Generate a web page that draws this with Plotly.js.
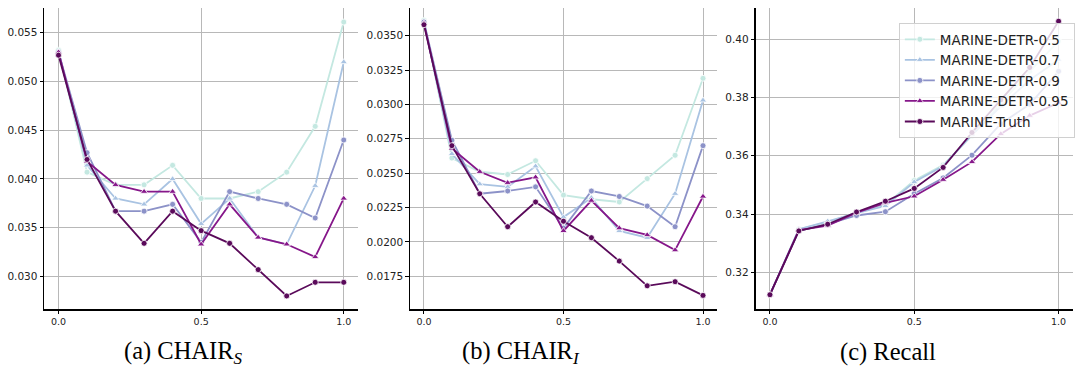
<!DOCTYPE html>
<html>
<head>
<meta charset="utf-8">
<script src="https://cdn.plot.ly/plotly-3.0.1.min.js"></script>
<style>
  html, body { margin: 0; padding: 0; background: #fff; }
  #chart { width: 1077px; height: 368px; }
</style>
</head>
<body>
<div id="chart"></div>
<script>
// Guidance strength (x axis shared by all three panels)
const xs = [0.0, 0.1, 0.2, 0.3, 0.4, 0.5, 0.6, 0.7, 0.8, 0.9, 1.0];

const seriesNames = ["MARINE-DETR-0.5", "MARINE-DETR-0.7", "MARINE-DETR-0.9", "MARINE-DETR-0.95", "MARINE-Truth"];

// (a) CHAIR_S
const chairS_05    = [0.0532, 0.0407, 0.0394, 0.0394, 0.0414, 0.0380, 0.0380, 0.0387, 0.0407, 0.0454, 0.0561];
const chairS_07    = [0.0531, 0.0414, 0.0380, 0.0374, 0.0400, 0.0354, 0.0380, 0.0340, 0.0333, 0.0393, 0.0520];
const chairS_09    = [0.0530, 0.0427, 0.0367, 0.0367, 0.0374, 0.0335, 0.0387, 0.0380, 0.0374, 0.0360, 0.0440];
const chairS_095   = [0.0530, 0.0418, 0.0394, 0.0387, 0.0387, 0.0333, 0.0374, 0.0340, 0.0333, 0.0320, 0.0380];
const chairS_truth = [0.0527, 0.0420, 0.0367, 0.0334, 0.0367, 0.0347, 0.0334, 0.0307, 0.0280, 0.0294, 0.0294];

// (b) CHAIR_I
const chairI_05    = [0.0361, 0.0261, 0.0251, 0.0249, 0.0259, 0.0234, 0.0231, 0.0229, 0.0246, 0.0263, 0.0319];
const chairI_07    = [0.0360, 0.0264, 0.0242, 0.0240, 0.0255, 0.0218, 0.0232, 0.0208, 0.0203, 0.0235, 0.0303];
const chairI_09    = [0.0360, 0.0274, 0.0235, 0.0237, 0.0240, 0.0210, 0.0237, 0.0233, 0.0226, 0.0211, 0.0270];
const chairI_095   = [0.0359, 0.0268, 0.0251, 0.0243, 0.0247, 0.0208, 0.0230, 0.0210, 0.0205, 0.0194, 0.0233];
const chairI_truth = [0.0358, 0.0270, 0.0235, 0.0211, 0.0229, 0.0215, 0.0203, 0.0186, 0.0168, 0.0171, 0.0161];

// (c) Recall
const recall_05    = [0.3123, 0.3348, 0.3372, 0.3405, 0.3432, 0.3515, 0.3568, 0.3670, 0.3780, 0.3890, 0.3994];
const recall_07    = [0.3123, 0.3348, 0.3375, 0.3403, 0.3428, 0.3510, 0.3565, 0.3672, 0.3770, 0.3860, 0.3930];
const recall_09    = [0.3123, 0.3342, 0.3365, 0.3395, 0.3408, 0.3470, 0.3524, 0.3602, 0.3710, 0.3777, 0.3890];
const recall_095   = [0.3123, 0.3345, 0.3360, 0.3405, 0.3438, 0.3461, 0.3518, 0.3579, 0.3675, 0.3738, 0.3782];
const recall_truth = [0.3123, 0.3342, 0.3365, 0.3407, 0.3444, 0.3488, 0.3560, 0.3680, 0.3792, 0.3903, 0.4062];

const colors  = ["#c4e8e1", "#a9c3e2", "#8c92c8", "#86178a", "#5a0a5a"];
const symbols = ["circle", "triangle-up", "circle", "triangle-up", "circle"];

const panels = [
  { data: [chairS_05, chairS_07, chairS_09, chairS_095, chairS_truth], xa: "x",  ya: "y"  },
  { data: [chairI_05, chairI_07, chairI_09, chairI_095, chairI_truth], xa: "x2", ya: "y2" },
  { data: [recall_05, recall_07, recall_09, recall_095, recall_truth], xa: "x3", ya: "y3" }
];

const traces = [];
panels.forEach((p, pi) => {
  p.data.forEach((vals, si) => {
    traces.push({
      type: "scatter",
      mode: "lines+markers",
      x: xs,
      y: vals,
      xaxis: p.xa,
      yaxis: p.ya,
      name: seriesNames[si],
      legendgroup: seriesNames[si],
      showlegend: pi === 2,
      line: { color: colors[si], width: 1.8 },
      marker: {
        symbol: symbols[si],
        size: symbols[si] === "circle" ? 6 : 6.5,
        color: colors[si],
        line: { color: "#ffffff", width: 0.8 }
      },
      hoverinfo: "x+y+name"
    });
  });
});

const tickFont = { family: "DejaVu Sans, sans-serif", size: 10.5, color: "#222" };

function xAxis(domain) {
  return {
    domain: domain,
    range: [-0.05, 1.05],
    tickvals: [0, 0.5, 1.0],
    ticktext: ["0.0", "0.5", "1.0"],
    showgrid: true, gridcolor: "#b8b8b8", gridwidth: 1,
    zeroline: false,
    showline: true, linecolor: "#000", linewidth: 1.2, mirror: false,
    ticks: "outside", ticklen: 3.5, tickcolor: "#000", tickwidth: 1,
    tickfont: { family: "DejaVu Sans, sans-serif", size: 9.5, color: "#222" }
  };
}
function yAxis(range, dtick, fmt, anchor) {
  return {
    domain: [0.1595, 0.978],
    anchor: anchor,
    range: range,
    tick0: 0, dtick: dtick,
    tickformat: fmt,
    showgrid: true, gridcolor: "#b8b8b8", gridwidth: 1,
    zeroline: false,
    showline: true, linecolor: "#000", linewidth: 1.2, mirror: false,
    ticks: "outside", ticklen: 3.5, tickcolor: "#000", tickwidth: 1,
    tickfont: tickFont
  };
}

const capFont = { family: "Liberation Serif, DejaVu Serif, serif", size: 24.5, color: "#000" };

const layout = {
  width: 1077, height: 368,
  margin: { l: 0, r: 0, t: 0, b: 0 },
  paper_bgcolor: "#fff", plot_bgcolor: "#fff",
  showlegend: true,
  xaxis:  Object.assign(xAxis([0.0411, 0.3324]), { anchor: "y" }),
  xaxis2: Object.assign(xAxis([0.3807, 0.6657]), { anchor: "y2" }),
  xaxis3: Object.assign(xAxis([0.7015, 0.9963]), { anchor: "y3" }),
  yaxis:  yAxis([0.02663, 0.05753], 0.005, ".3f", "x"),
  yaxis2: yAxis([0.01509, 0.03701], 0.0025, ".4f", "x2"),
  yaxis3: yAxis([0.3073, 0.4107], 0.02, ".2f", "x3"),
  legend: {
    x: 0.998, xanchor: "right", xref: "paper",
    y: 0.9375, yanchor: "top", yref: "paper",
    bgcolor: "rgba(255,255,255,0.8)",
    bordercolor: "#d0d0d0", borderwidth: 1,
    font: { family: "DejaVu Sans, sans-serif", size: 13.5, color: "#222" },
    tracegroupgap: 0
  },
  annotations: [
    { text: "(a) CHAIR<sub><i>S</i></sub>", x: 0.1708, y: 0.043, xref: "paper", yref: "paper",
      xanchor: "center", yanchor: "middle", showarrow: false, font: capFont },
    { text: "(b) CHAIR<sub><i>I</i></sub>", x: 0.4837, y: 0.043, xref: "paper", yref: "paper",
      xanchor: "center", yanchor: "middle", showarrow: false, font: capFont },
    { text: "(c) Recall", x: 0.8245, y: 0.043, xref: "paper", yref: "paper",
      xanchor: "center", yanchor: "middle", showarrow: false, font: capFont }
  ]
};

Plotly.newPlot("chart", traces, layout, { staticPlot: true, displayModeBar: false });
</script>
</body>
</html>
